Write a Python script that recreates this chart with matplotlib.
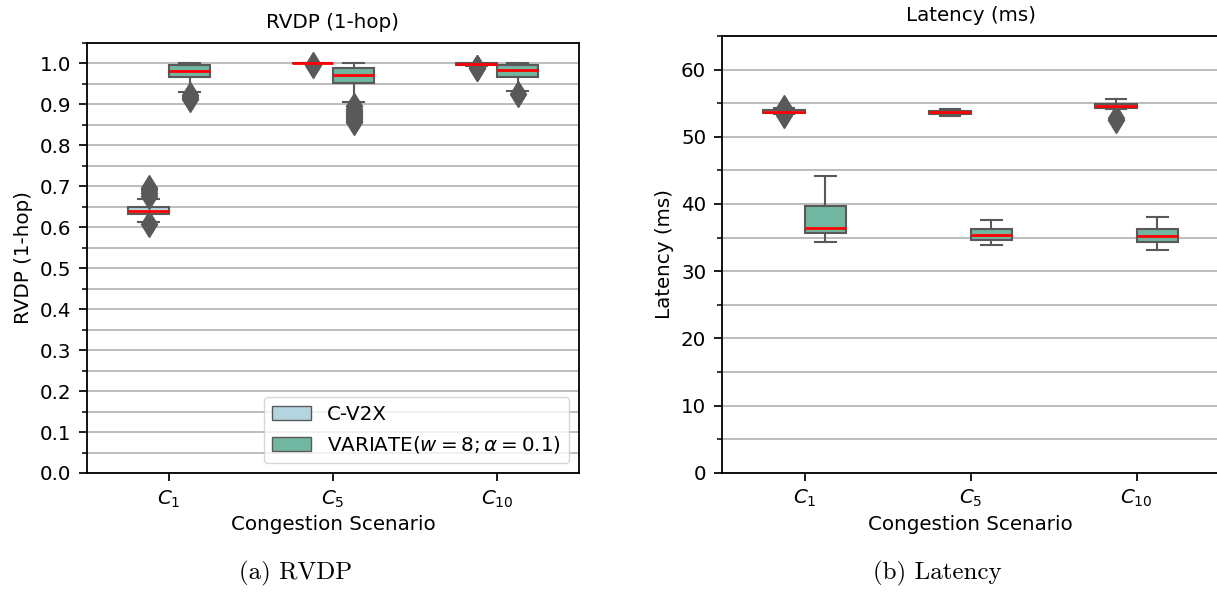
import numpy as np
import matplotlib
matplotlib.use("Agg")
import matplotlib.pyplot as plt
from matplotlib.patches import Patch
from matplotlib.ticker import MultipleLocator

# categories
scenarios = ['$C_1$', '$C_5$', '$C_{10}$']
series_names = ['C-V2X', r'VARIATE($w = 8; \alpha = 0.1$)']

# RVDP (1-hop), C-V2X
rvdp_cv2x_med = [0.639, 1.0, 0.999]
rvdp_cv2x_q1 = [0.633, 1.0, 0.997]
rvdp_cv2x_q3 = [0.649, 1.0, 1.0]
rvdp_cv2x_lo = [0.612, 1.0, 0.994]
rvdp_cv2x_hi = [0.670, 1.0, 1.0]
rvdp_cv2x_fliers = [[0.697, 0.690, 0.683, 0.676, 0.607], [0.997], [0.990, 0.988]]

# RVDP (1-hop), VARIATE
rvdp_var_med = [0.982, 0.971, 0.984]
rvdp_var_q1 = [0.966, 0.953, 0.966]
rvdp_var_q3 = [0.996, 0.988, 0.996]
rvdp_var_lo = [0.931, 0.905, 0.932]
rvdp_var_hi = [1.0, 1.0, 1.0]
rvdp_var_fliers = [[0.922, 0.918, 0.914],
                   [0.895, 0.89, 0.885, 0.88, 0.875, 0.87, 0.865, 0.86, 0.856],
                   [0.926]]

# Latency (ms), C-V2X
lat_cv2x_med = [53.74, 53.64, 54.58]
lat_cv2x_q1 = [53.55, 53.40, 54.25]
lat_cv2x_q3 = [54.00, 53.90, 54.90]
lat_cv2x_lo = [53.35, 53.15, 54.20]
lat_cv2x_hi = [54.25, 54.15, 55.55]
lat_cv2x_fliers = [[54.35, 53.25], [], [52.85, 52.55]]

# Latency (ms), VARIATE
lat_var_med = [36.36, 35.41, 35.16]
lat_var_q1 = [35.67, 34.67, 34.27]
lat_var_q3 = [39.63, 36.26, 36.26]
lat_var_lo = [34.33, 33.82, 33.18]
lat_var_hi = [44.20, 37.55, 38.10]
lat_var_fliers = [[], [], []]

c_cv2x = '#b4d4df'
c_var = '#71b6a1'
edge = '#595959'
fs = 14.3


def stats(med, q1, q3, lo, hi, fl):
    return [dict(med=m, q1=a, q3=b, whislo=l, whishi=h, fliers=f)
            for m, a, b, l, h, f in zip(med, q1, q3, lo, hi, fl)]


def draw(ax, st, pos, color):
    ax.bxp(st, positions=pos, widths=0.25, patch_artist=True, showfliers=True,
           boxprops=dict(facecolor=color, edgecolor=edge, linewidth=1.5),
           whiskerprops=dict(color=edge, linewidth=1.5),
           capprops=dict(color=edge, linewidth=1.5),
           medianprops=dict(color='red', linewidth=2),
           flierprops=dict(marker='d', markersize=13.5, markerfacecolor=edge,
                           markeredgecolor=edge, linestyle='none'))


fig = plt.figure(figsize=(12.17, 5.92), dpi=100)
ax1 = fig.add_axes([87 / 1217, 119 / 592, 492 / 1217, 430 / 592])
ax2 = fig.add_axes([721.7 / 1217, 119.3 / 592, 498 / 1217, 436.7 / 592])

x = np.arange(len(scenarios))

draw(ax1, stats(rvdp_cv2x_med, rvdp_cv2x_q1, rvdp_cv2x_q3, rvdp_cv2x_lo, rvdp_cv2x_hi, rvdp_cv2x_fliers), x - 0.125, c_cv2x)
draw(ax1, stats(rvdp_var_med, rvdp_var_q1, rvdp_var_q3, rvdp_var_lo, rvdp_var_hi, rvdp_var_fliers), x + 0.125, c_var)
draw(ax2, stats(lat_cv2x_med, lat_cv2x_q1, lat_cv2x_q3, lat_cv2x_lo, lat_cv2x_hi, lat_cv2x_fliers), x - 0.125, c_cv2x)
draw(ax2, stats(lat_var_med, lat_var_q1, lat_var_q3, lat_var_lo, lat_var_hi, lat_var_fliers), x + 0.125, c_var)

for ax, title, ylim, major, minor in [(ax1, 'RVDP (1-hop)', (0, 1.05), 0.1, 0.05),
                                      (ax2, 'Latency (ms)', (0, 65), 10, 5)]:
    ax.set_xlim(-0.5, 2.5)
    ax.set_ylim(*ylim)
    ax.set_xticks(x)
    ax.set_xticklabels(scenarios)
    ax.yaxis.set_major_locator(MultipleLocator(major))
    ax.yaxis.set_minor_locator(MultipleLocator(minor))
    ax.grid(which='both', axis='y', color='#b8b8b8', linewidth=1.3)
    ax.set_axisbelow(True)
    ax.tick_params(which='major', labelsize=fs, length=5.6, width=1.25, pad=5.5)
    ax.tick_params(which='minor', length=3.3, width=1.1)
    for s in ax.spines.values():
        s.set_linewidth(1.3)
    ax.set_title(title, fontsize=fs, pad=10.5)
    ax.set_ylabel(title, fontsize=fs, labelpad=5)
    ax.set_xlabel('Congestion Scenario', fontsize=fs, labelpad=4)

ax1.yaxis.set_major_formatter(matplotlib.ticker.FormatStrFormatter('%.1f'))

handles = [Patch(facecolor=c_cv2x, edgecolor=edge, linewidth=1),
           Patch(facecolor=c_var, edgecolor=edge, linewidth=1)]
ax1.legend(handles, series_names, loc='lower right', fontsize=fs, handlelength=2.0)

fig.text(296 / 1217, 1 - 573 / 592, '(a) RVDP', family='cmr10', fontsize=18, ha='center', va='center')
fig.text(937 / 1217, 1 - 573 / 592, '(b) Latency', family='cmr10', fontsize=18, ha='center', va='center')

fig.savefig('out.png', dpi=100)
